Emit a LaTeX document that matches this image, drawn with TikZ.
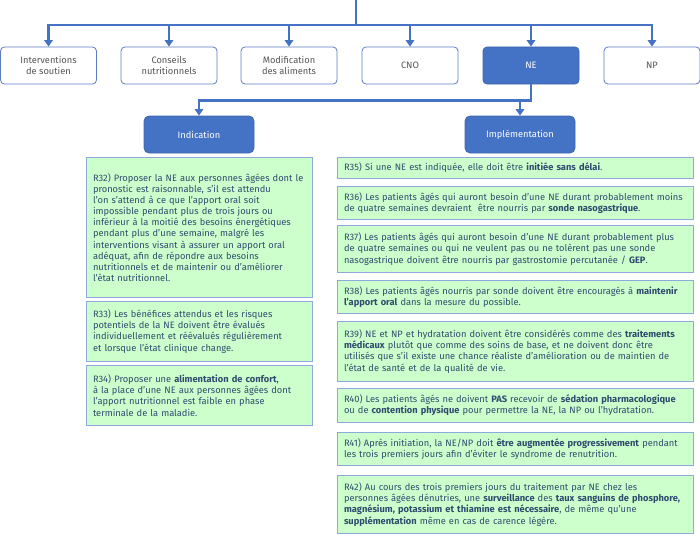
\documentclass[tikz,border=0pt]{standalone}
\usepackage{fontspec}
\setmainfont{Fira Sans}
\usepackage{xcolor}
\usepackage{tikz}
\usetikzlibrary{arrows.meta,positioning}

\definecolor{flowblue}{HTML}{4472C4}
\definecolor{boxedge}{HTML}{5A7DC2}
\definecolor{choicegray}{HTML}{555555}
\definecolor{recogreen}{HTML}{CCFFCC}
\definecolor{recoedge}{HTML}{8EA9DB}
\definecolor{recotext}{HTML}{2F4B6E}

\begin{document}
\begin{tikzpicture}[x=1pt, y=-1pt, font=\fontsize{9.3}{11.1}\selectfont]
    % Define styles
    \tikzstyle{choice} = [rectangle, rounded corners=4pt, minimum width=96pt, minimum height=37pt, align=center, draw=boxedge, line width=0.8pt, text=choicegray, inner sep=2pt]
    \tikzstyle{chosen} = [choice, fill=flowblue, draw=flowblue!90!black, text=white]
    \tikzstyle{heading} = [rectangle, rounded corners=5pt, minimum width=110pt, minimum height=37pt, draw=flowblue!90!black, line width=0.8pt, fill=flowblue, text=white]
    \tikzstyle{reco} = [rectangle, anchor=north west, draw=recoedge, line width=1pt, fill=recogreen, text=recotext, align=left, inner xsep=6.5pt, inner ysep=0pt]
    \tikzstyle{flow} = [draw=flowblue, line width=2.6pt, -{Triangle[width=8.5pt,length=6.5pt]}]

    \useasboundingbox (0,0) rectangle (700,535);

    % Nodes
    \coordinate (root) at (356,0);
    \node[choice] (soutien) at (48.5,65.5) {Interventions\\de soutien};
    \node[choice] (conseils) at (169,65.5) {Conseils\\nutritionnels};
    \node[choice] (modif) at (289,65.5) {Modification\\des aliments};
    \node[choice] (cno) at (410,65.5) {CNO};
    \node[chosen] (ne) at (531,65.5) {NE};
    \node[choice] (np) at (652,65.5) {NP};

    \node[heading] (indication) at (199,134.5) {Indication};
    \node[heading] (implementation) at (520,134.5) {Implémentation};

    \node[reco, text width=213pt, minimum height=140pt] (r32) at (86,157) {R32) Proposer la NE aux personnes âgées dont le\\pronostic est raisonnable, s’il est attendu\\l’on s’attend à ce que l’apport oral soit\\impossible pendant plus de trois jours ou\\inférieur à la moitié des besoins énergétiques\\pendant plus d’une semaine, malgré les\\interventions visant à assurer un apport oral\\adéquat, afin de répondre aux besoins\\nutritionnels et de maintenir ou d’améliorer\\l’état nutritionnel.};
    \node[reco, text width=213pt, minimum height=60pt] (r33) at (86,301) {R33) Les bénéfices attendus et les risques\\potentiels de la NE doivent être évalués\\individuellement et réévalués régulièrement\\et lorsque l’état clinique change.};
    \node[reco, text width=213pt, minimum height=60pt] (r34) at (86,365) {R34) Proposer une \textbf{alimentation de confort},\\à la place d’une NE aux personnes âgées dont\\l’apport nutritionnel est faible en phase\\terminale de la maladie.};

    \node[reco, text width=343pt, minimum height=21pt] (r35) at (337,157) {R35) Si une NE est indiquée, elle doit être \textbf{initiée sans délai}.};
    \node[reco, text width=343pt, minimum height=33pt] (r36) at (337,186) {R36) Les patients âgés qui auront besoin d’une NE durant probablement moins\\de quatre semaines devraient\ \ être nourris par \textbf{sonde nasogastrique}.};
    \node[reco, text width=343pt, minimum height=47pt] (r37) at (337,225) {R37) Les patients âgés qui auront besoin d’une NE durant probablement plus\\de quatre semaines ou qui ne veulent pas ou ne tolèrent pas une sonde\\nasogastrique doivent être nourris par gastrostomie percutanée / \textbf{GEP}.};
    \node[reco, text width=343pt, minimum height=33pt] (r38) at (337,280) {R38) Les patients âgés nourris par sonde doivent être encouragés à \textbf{maintenir}\\\textbf{l’apport oral} dans la mesure du possible.};
    \node[reco, text width=343pt, minimum height=60pt] (r39) at (337,321) {R39) NE et NP et hydratation doivent être considérés comme des \textbf{traitements}\\\textbf{médicaux} plutôt que comme des soins de base, et ne doivent donc être\\utilisés que s’il existe une chance réaliste d’amélioration ou de maintien de\\l’état de santé et de la qualité de vie.};
    \node[reco, text width=343pt, minimum height=34pt] (r40) at (337,388) {R40) Les patients âgés ne doivent \textbf{PAS} recevoir de \textbf{sédation pharmacologique}\\ou de \textbf{contention physique} pour permettre la NE, la NP ou l'hydratation.};
    \node[reco, text width=343pt, minimum height=33pt] (r41) at (337,432) {R41) Après initiation, la NE/NP doit \textbf{être augmentée progressivement} pendant\\les trois premiers jours afin d’éviter le syndrome de renutrition.};
    \node[reco, text width=343pt, minimum height=58pt] (r42) at (337,475) {R42) Au cours des trois premiers jours du traitement par NE chez les\\personnes âgées dénutries, une \textbf{surveillance} des \textbf{taux sanguins de phosphore,}\\\textbf{magnésium, potassium et thiamine est nécessaire}, de même qu’une\\\textbf{supplémentation} même en cas de carence légère.};

    % Connections
    \draw[flow] (root) -- ++(0,25) -| (soutien);
    \draw[flow] (root) -- ++(0,25) -| (conseils);
    \draw[flow] (root) -- ++(0,25) -| (modif);
    \draw[flow] (root) -- ++(0,25) -| (cno);
    \draw[flow] (root) -- ++(0,25) -| (ne);
    \draw[flow] (root) -- ++(0,25) -| (np);
    \draw[flow] (ne.south) -- ++(0,16) -| (indication);
    \draw[flow] (ne.south) -- ++(0,16) -| (implementation);
\end{tikzpicture}
\end{document}
